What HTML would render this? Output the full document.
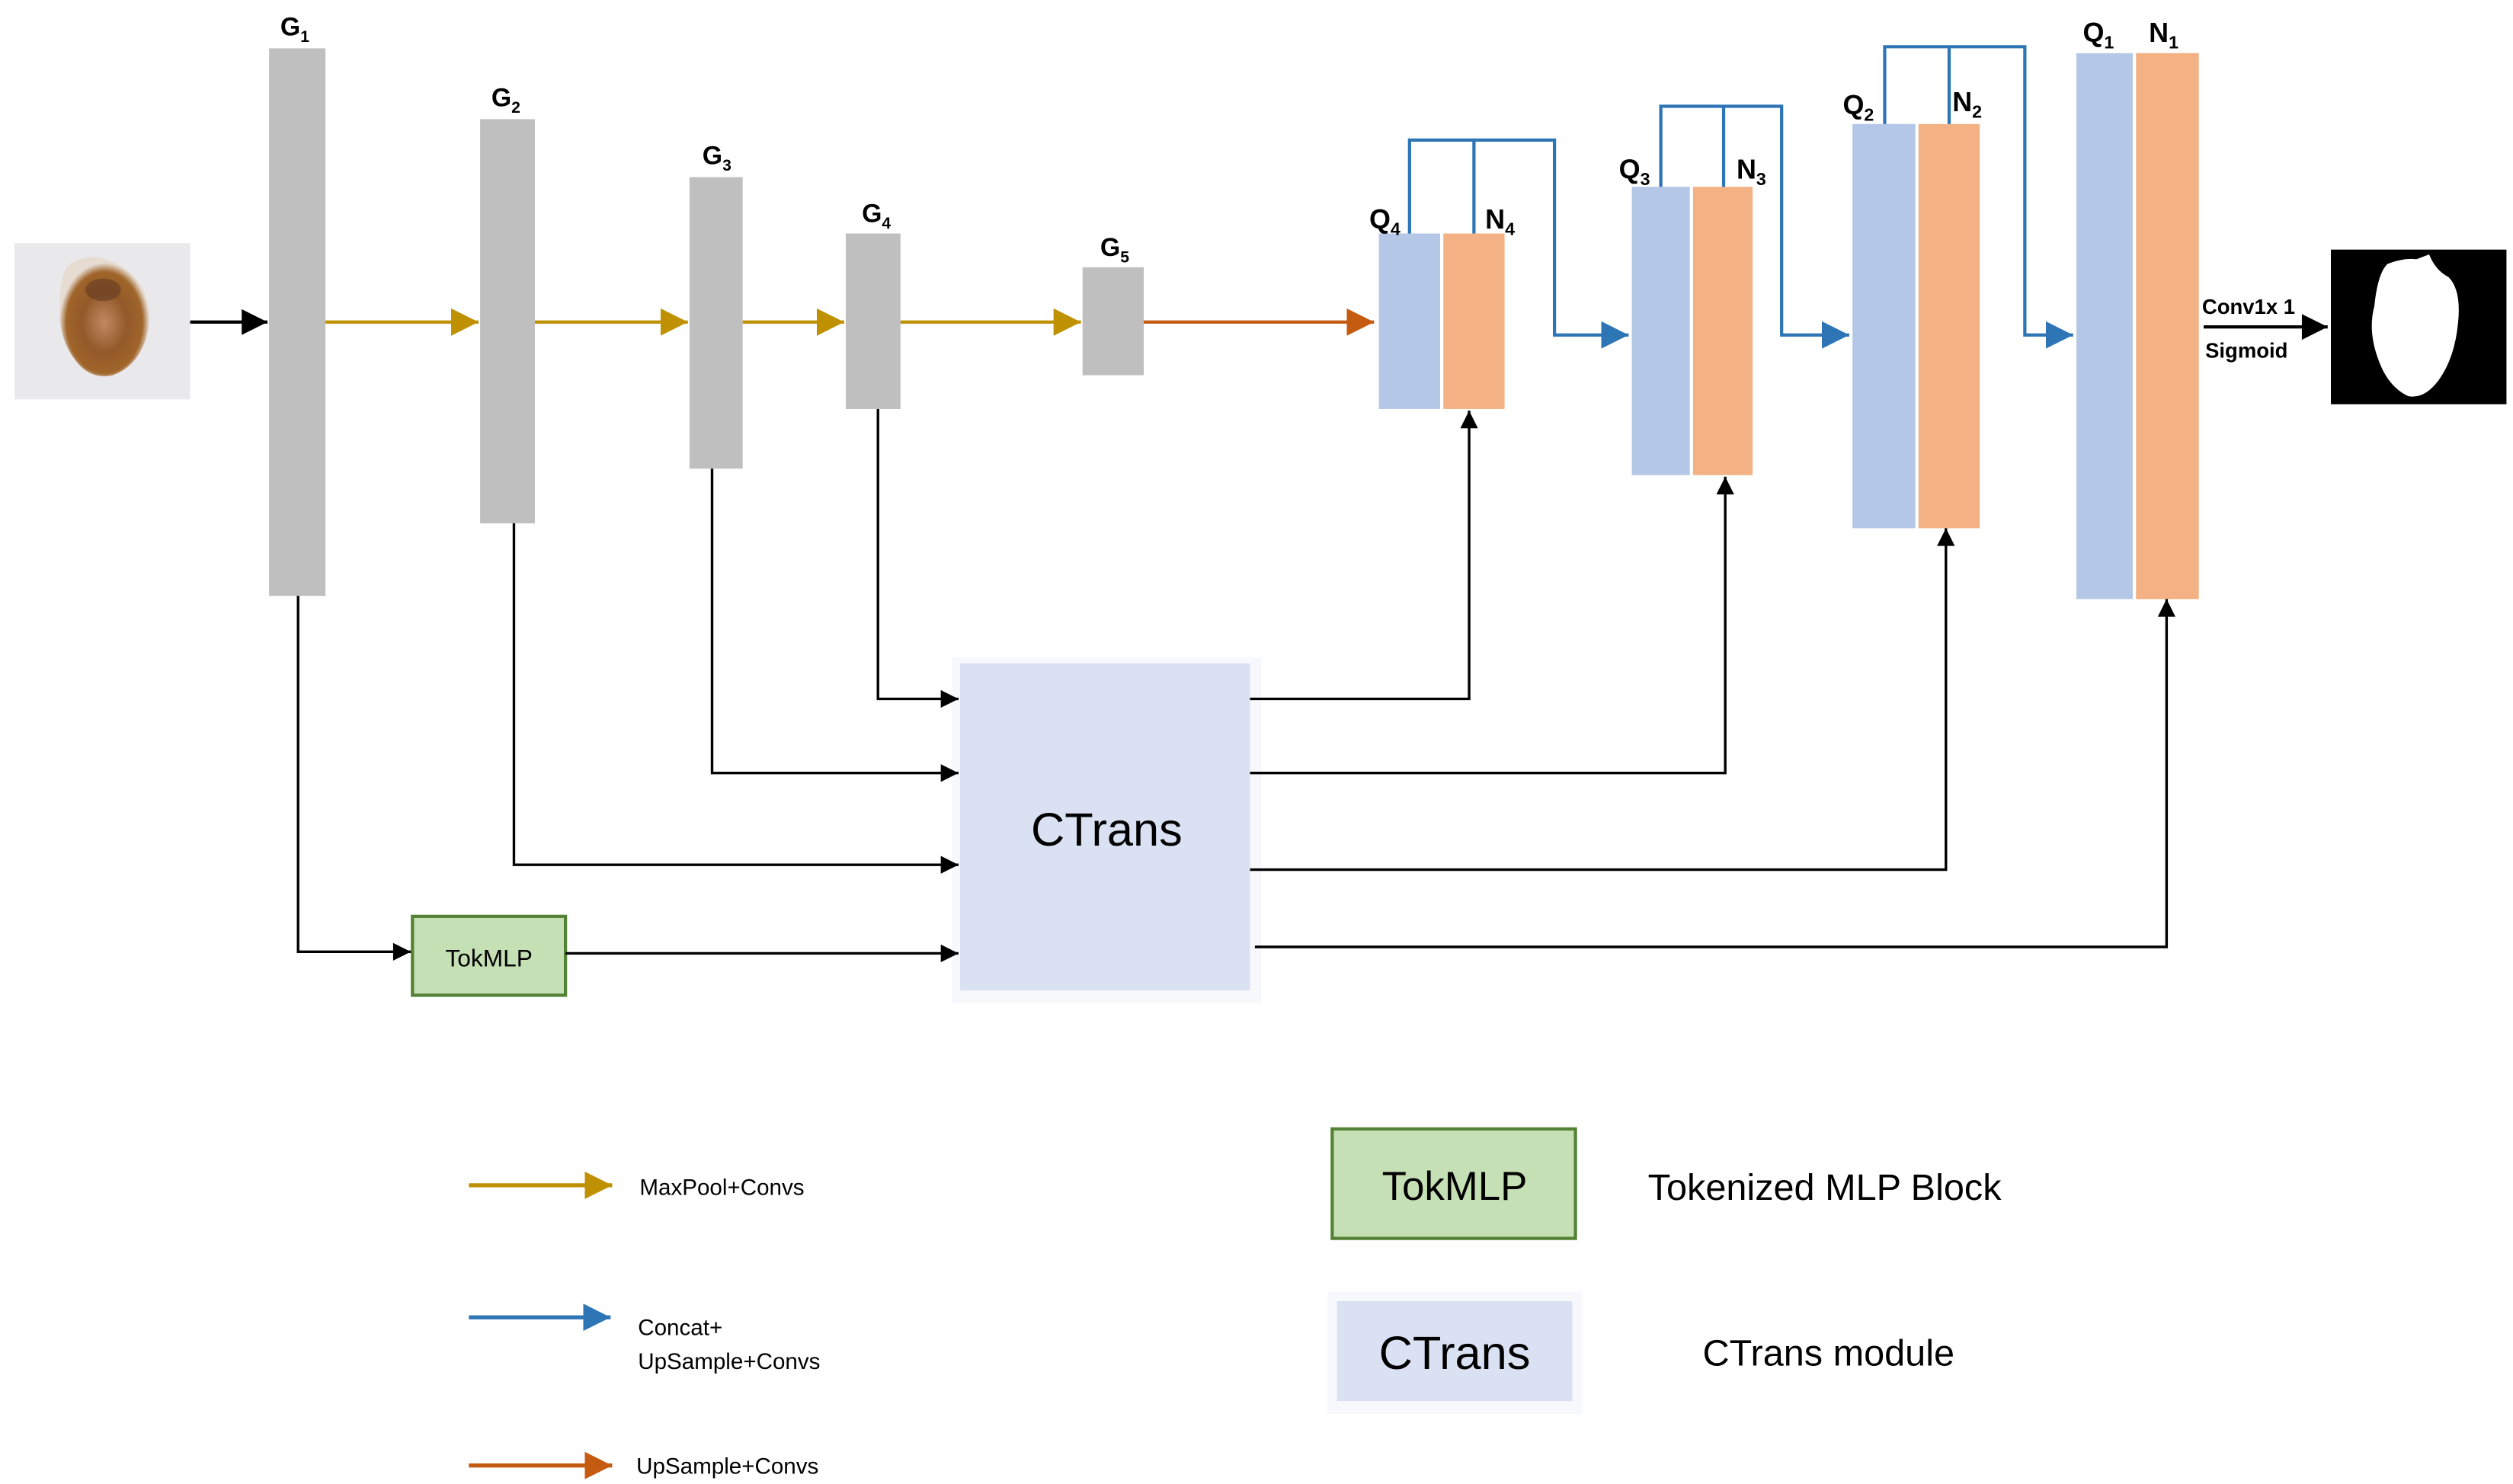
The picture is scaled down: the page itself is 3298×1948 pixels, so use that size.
<!DOCTYPE html>
<html><head><meta charset="utf-8"><style>
html,body{margin:0;padding:0;background:#fff;}
svg{display:block;}
text{font-family:"Liberation Sans",sans-serif;}
</style></head><body>
<svg width="3298" height="1948" viewBox="0 0 1560 921.5" xmlns="http://www.w3.org/2000/svg">
<defs>
<marker id="ab" viewBox="0 0 10 10" refX="10" refY="5" markerWidth="13" markerHeight="11" markerUnits="userSpaceOnUse" orient="auto"><path d="M0,0L10,5L0,10z" fill="#000"/></marker>
<marker id="abl" viewBox="0 0 10 10" refX="10" refY="5" markerWidth="18" markerHeight="16" markerUnits="userSpaceOnUse" orient="auto"><path d="M0,0L10,5L0,10z" fill="#000"/></marker>
<marker id="ag" viewBox="0 0 10 10" refX="10" refY="5" markerWidth="17" markerHeight="17" markerUnits="userSpaceOnUse" orient="auto"><path d="M0,0L10,5L0,10z" fill="#bf9000"/></marker>
<marker id="abu" viewBox="0 0 10 10" refX="10" refY="5" markerWidth="17" markerHeight="17" markerUnits="userSpaceOnUse" orient="auto"><path d="M0,0L10,5L0,10z" fill="#2e75b6"/></marker>
<marker id="ao" viewBox="0 0 10 10" refX="10" refY="5" markerWidth="17" markerHeight="17" markerUnits="userSpaceOnUse" orient="auto"><path d="M0,0L10,5L0,10z" fill="#c55a11"/></marker>
<radialGradient id="les" cx="0.5" cy="0.55" r="0.5">
<stop offset="0" stop-color="#c08a62"/><stop offset="0.5" stop-color="#93592a"/><stop offset="0.85" stop-color="#a0652a"/><stop offset="1" stop-color="#e6dcd2"/>
</radialGradient>
</defs>

<rect x="9" y="151" width="109" height="97" fill="#e9e8ea"/>
<path d="M42,165 Q55,156 68,162 Q80,166 88,178 Q96,195 90,212 Q84,228 70,233 Q56,236 47,224 Q36,210 37,190 Q37,172 42,165z" fill="url(#les)"/>
<ellipse cx="64" cy="180" rx="11" ry="7" fill="#5a3420" opacity="0.5"/>

<line x1="118" y1="200" x2="166" y2="200" stroke="#000" stroke-width="2" marker-end="url(#abl)"/>

<rect x="167" y="30" width="35" height="340" fill="#bfbfbf"/>
<rect x="298" y="74" width="34" height="251" fill="#bfbfbf"/>
<rect x="428" y="110" width="33" height="181" fill="#bfbfbf"/>
<rect x="525" y="145" width="34" height="109" fill="#bfbfbf"/>
<rect x="672" y="166" width="38" height="67" fill="#bfbfbf"/>
<g font-weight="bold" font-size="16">
<text x="174" y="22">G<tspan font-size="10" dy="4">1</tspan></text>
<text x="305" y="66">G<tspan font-size="10" dy="4">2</tspan></text>
<text x="436" y="102">G<tspan font-size="10" dy="4">3</tspan></text>
<text x="535" y="138">G<tspan font-size="10" dy="4">4</tspan></text>
<text x="683" y="159">G<tspan font-size="10" dy="4">5</tspan></text>
</g>

<g stroke="#bf9000" stroke-width="2">
<line x1="202" y1="200" x2="297" y2="200" marker-end="url(#ag)"/>
<line x1="332" y1="200" x2="427" y2="200" marker-end="url(#ag)"/>
<line x1="461" y1="200" x2="524" y2="200" marker-end="url(#ag)"/>
<line x1="559" y1="200" x2="671" y2="200" marker-end="url(#ag)"/>
</g>
<line x1="710" y1="200" x2="853" y2="200" stroke="#c55a11" stroke-width="2" marker-end="url(#ao)"/>

<rect x="856" y="145" width="38" height="109" fill="#b4c7e7"/>
<rect x="896" y="145" width="38" height="109" fill="#f4b183"/>
<rect x="1013" y="116" width="36" height="179" fill="#b4c7e7"/>
<rect x="1051" y="116" width="37" height="179" fill="#f4b183"/>
<rect x="1150" y="77" width="39" height="251" fill="#b4c7e7"/>
<rect x="1191" y="77" width="38" height="251" fill="#f4b183"/>
<rect x="1289" y="33" width="35" height="339" fill="#b4c7e7"/>
<rect x="1326" y="33" width="39" height="339" fill="#f4b183"/>

<g font-weight="bold" font-size="17">
<text x="850" y="142">Q<tspan font-size="11" dy="4">4</tspan></text>
<text x="922" y="142">N<tspan font-size="11" dy="4">4</tspan></text>
<text x="1005" y="111">Q<tspan font-size="11" dy="4">3</tspan></text>
<text x="1078" y="111">N<tspan font-size="11" dy="4">3</tspan></text>
<text x="1144" y="71">Q<tspan font-size="11" dy="4">2</tspan></text>
<text x="1212" y="69">N<tspan font-size="11" dy="4">2</tspan></text>
<text x="1293" y="26">Q<tspan font-size="11" dy="4">1</tspan></text>
<text x="1334" y="26">N<tspan font-size="11" dy="4">1</tspan></text>
</g>

<g stroke="#2e75b6" stroke-width="2" fill="none">
<path d="M875,145 V87 H965 V208 H1011" marker-end="url(#abu)"/>
<line x1="915" y1="87" x2="915" y2="145"/>
<path d="M1031,116 V66 H1106 V208 H1148" marker-end="url(#abu)"/>
<line x1="1070" y1="66" x2="1070" y2="116"/>
<path d="M1170,77 V29 H1257 V208 H1287" marker-end="url(#abu)"/>
<line x1="1210" y1="29" x2="1210" y2="77"/>
</g>

<line x1="1368" y1="203" x2="1445" y2="203" stroke="#000" stroke-width="2" marker-end="url(#abl)"/>
<text x="1367" y="195" font-size="13" font-weight="bold">Conv1x 1</text>
<text x="1369" y="222" font-size="13" font-weight="bold">Sigmoid</text>
<rect x="1447" y="155" width="109" height="96" fill="#000"/>
<path d="M1482,164 Q1492,160 1500,161 L1508,158 Q1512,168 1520,172 Q1528,180 1526,200 Q1524,222 1514,236 Q1505,248 1495,246 Q1482,240 1476,222 Q1470,205 1474,190 Q1476,170 1482,164z" fill="#fff"/>

<rect x="591" y="408" width="192" height="215" fill="#f6f8fc"/>
<rect x="596" y="412" width="180" height="203" fill="#dae1f3"/>
<text x="687" y="525" font-size="29" text-anchor="middle">CTrans</text>

<rect x="256" y="569" width="95" height="49" fill="#c5e0b4" stroke="#548235" stroke-width="2"/>
<text x="303.5" y="600" font-size="15" text-anchor="middle">TokMLP</text>

<g stroke="#000" stroke-width="1.6" fill="none">
<path d="M185,370 V591 H255" marker-end="url(#ab)"/>
<path d="M351,592 H595" marker-end="url(#ab)"/>
<path d="M319,325 V537 H595" marker-end="url(#ab)"/>
<path d="M442,291 V480 H595" marker-end="url(#ab)"/>
<path d="M545,254 V434 H595" marker-end="url(#ab)"/>
<path d="M776,434 H912 V255" marker-end="url(#ab)"/>
<path d="M776,480 H1071 V296" marker-end="url(#ab)"/>
<path d="M776,540 H1208 V328" marker-end="url(#ab)"/>
<path d="M779,588 H1345 V372" marker-end="url(#ab)"/>
</g>

<line x1="291" y1="736" x2="380" y2="736" stroke="#bf9000" stroke-width="2.5" marker-end="url(#ag)"/>
<text x="397" y="742" font-size="14">MaxPool+Convs</text>
<line x1="291" y1="818" x2="379" y2="818" stroke="#2e75b6" stroke-width="2.5" marker-end="url(#abu)"/>
<text x="396" y="829" font-size="14">Concat+</text>
<text x="396" y="850" font-size="14">UpSample+Convs</text>
<line x1="291" y1="910" x2="380" y2="910" stroke="#c55a11" stroke-width="2.5" marker-end="url(#ao)"/>
<text x="395" y="915" font-size="14">UpSample+Convs</text>

<rect x="827" y="701" width="151" height="68" fill="#c5e0b4" stroke="#548235" stroke-width="2"/>
<text x="903" y="745" font-size="25" text-anchor="middle">TokMLP</text>
<text x="1023" y="745" font-size="23">Tokenized MLP Block</text>
<rect x="824" y="802" width="158" height="76" fill="#f6f8fc"/>
<rect x="830" y="808" width="146" height="62" fill="#dae1f3"/>
<text x="903" y="850" font-size="29" text-anchor="middle">CTrans</text>
<text x="1057" y="848" font-size="23">CTrans module</text>
</svg>
</body></html>
